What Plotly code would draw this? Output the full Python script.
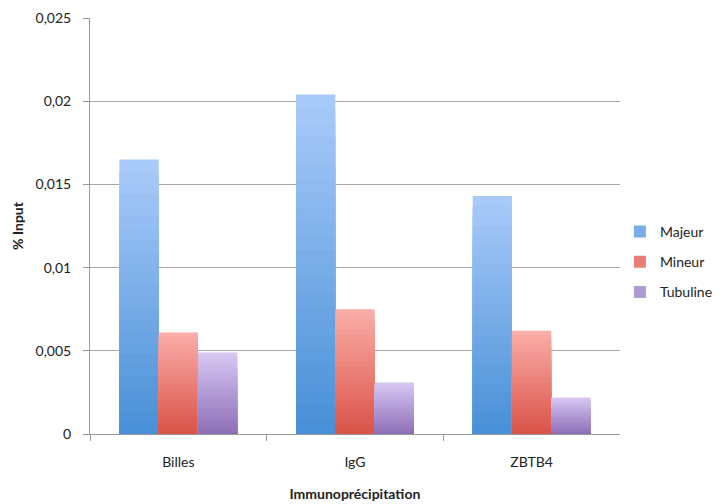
import plotly.graph_objects as go

categories = ["Billes", "IgG", "ZBTB4"]
majeur = [0.0165, 0.0204, 0.0143]
mineur = [0.0061, 0.0075, 0.0062]
tubuline = [0.0049, 0.0031, 0.0022]
y_tick_vals = [0, 0.005, 0.01, 0.015, 0.02, 0.025]
y_tick_text = ["0", "0,005", "0,01", "0,015", "0,02", "0,025"]

series = [
    ("Majeur", majeur, (168, 202, 249), (74, 144, 214)),
    ("Mineur", mineur, (250, 172, 166), (218, 84, 74)),
    ("Tubuline", tubuline, (214, 198, 242), (142, 112, 184)),
]

STEPS = 24
fig = go.Figure()
for name, vals, top, bot in series:
    for i in range(STEPS):
        f = 1 - i / STEPS  # fraction of bar height for this overlay layer
        t = i / (STEPS - 1)
        c = tuple(round(top[k] + (bot[k] - top[k]) * t) for k in range(3))
        fig.add_trace(go.Bar(
            x=categories,
            y=[v * f for v in vals],
            name=name,
            offsetgroup=name,
            legendgroup=name,
            showlegend=(i == STEPS // 2),
            marker=dict(color="rgb(%d,%d,%d)" % c, line=dict(width=0)),
            hoverinfo="skip" if i else "x+y+name",
        ))

# The page body has an 8px default margin, so the figure is sized to fit the window.
fig.update_layout(
    width=714, height=496,
    margin=dict(l=82, r=99, t=10, b=70),
    paper_bgcolor="white", plot_bgcolor="white",
    barmode="group", bargap=0.333, bargroupgap=0,
    font=dict(family="Lato, Open Sans, sans-serif", size=13, color="#222"),
    showlegend=True,
    legend=dict(xref="container", yref="container", x=0.857, y=0.488,
                xanchor="left", yanchor="middle",
                font=dict(size=14), tracegroupgap=9, traceorder="grouped",
                itemwidth=30, borderwidth=0, bgcolor="rgba(0,0,0,0)"),
    xaxis=dict(
        automargin=False,
        showline=True, linecolor="#999", linewidth=1,
        ticks="outside", tickson="boundaries", ticklen=6, tickcolor="#999",
        ticklabelstandoff=15,
        title=dict(text="<b>Immunoprécipitation</b>", standoff=20, font=dict(size=14)),
        tickfont=dict(size=14),
    ),
    yaxis=dict(
        automargin=False,
        range=[0, 0.025], tickvals=y_tick_vals, ticktext=y_tick_text,
        showline=True, linecolor="#999", linewidth=1,
        ticks="outside", ticklen=6, tickcolor="#999",
        ticklabelstandoff=9, ticklabeloverflow="allow",
        showgrid=True, gridcolor="#a8a8a8", gridwidth=1,
        zeroline=False,
        title=dict(text="<b>% Input</b>", standoff=8, font=dict(size=14)),
        tickfont=dict(size=14),
    ),
)

fig.write_html("out.html")
